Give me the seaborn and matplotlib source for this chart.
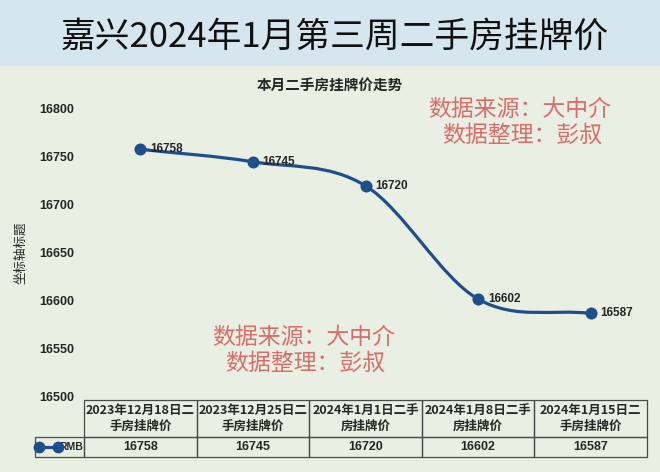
import matplotlib
matplotlib.use("Agg")
import matplotlib.pyplot as plt
from matplotlib.patches import Rectangle, PathPatch
from matplotlib.path import Path
from matplotlib.lines import Line2D
import numpy as np
import pandas as pd
import seaborn as sns

# --- Data ---
periods = [
    "2023年12月18日二\n手房挂牌价",
    "2023年12月25日二\n手房挂牌价",
    "2024年1月1日二手\n房挂牌价",
    "2024年1月8日二手\n房挂牌价",
    "2024年1月15日二\n手房挂牌价",
]
prices = [16758, 16745, 16720, 16602, 16587]
series_name = "RMB"
y_ticks = [16500, 16550, 16600, 16650, 16700, 16750, 16800]

TITLE = "嘉兴2024年1月第三周二手房挂牌价"
CHART_TITLE = "本月二手房挂牌价走势"
Y_LABEL = "坐标轴标题"
WATERMARK = ["数据来源：大中介", "数据整理：彭叔"]

# --- Style ---
BG = "#e9efe2"
BAND = "#d6e6ee"
LINE = "#1f4e8c"
RED = "#d96e6a"
CJK = ["Noto Sans CJK SC", "DejaVu Sans"]

sns.set_style("white")
plt.rcParams["font.family"] = ["Liberation Sans", "Noto Sans CJK SC", "DejaVu Sans"]

df = pd.DataFrame({"x": np.arange(len(prices)), "price": prices})

W, H = 660, 472


def fx(px):
    return px / W


def fy(py):
    return 1 - py / H


fig = plt.figure(figsize=(W / 100, H / 100), dpi=100, facecolor=BG)
fig.patches.append(Rectangle((0, fy(66)), 1, 66 / H, transform=fig.transFigure,
                             facecolor=BAND, edgecolor="none", zorder=0))

# --- Main plot ---
ax = fig.add_axes([fx(84), fy(397), 563 / W, 288 / H])
ax.set_facecolor("none")

# smoothed line (bezier through the points, excel style)
xs = df["x"].to_numpy(float)
ys = df["price"].to_numpy(float)
tang = np.gradient(ys, xs)
verts = [(xs[0], ys[0])]
codes = [Path.MOVETO]
for i in range(len(xs) - 1):
    dx = xs[i + 1] - xs[i]
    verts += [(xs[i] + dx / 3, ys[i] + tang[i] * dx / 3),
              (xs[i + 1] - dx / 3, ys[i + 1] - tang[i + 1] * dx / 3),
              (xs[i + 1], ys[i + 1])]
    codes += [Path.CURVE4] * 3
ax.add_patch(PathPatch(Path(verts, codes), facecolor="none", edgecolor=LINE,
                       lw=2.3, zorder=2, capstyle="round"))

sns.scatterplot(data=df, x="x", y="price", s=75, color=LINE, edgecolor=LINE,
                linewidth=0, zorder=3, ax=ax, legend=False)

for x, y in zip(df["x"], df["price"]):
    ax.annotate(f"{y}", (x, y), xytext=(7, 0), textcoords="offset points",
                va="center", ha="left", fontsize=8.5, fontweight="bold")

ax.set_xlim(-0.5, len(prices) - 0.5)
ax.set_ylim(y_ticks[0], y_ticks[-1])
ax.set_yticks(y_ticks)
ax.set_xticks([])
ax.set_xlabel("")
ax.set_ylabel("")
sns.despine(ax=ax, left=True, bottom=True)
ax.tick_params(axis="y", length=0, pad=7, labelsize=9)
for lab in ax.get_yticklabels():
    lab.set_fontweight("bold")

# --- Texts ---
fig.text(fx(335), fy(37), TITLE, fontsize=25, ha="center", va="center",
         family=CJK, fontweight="light", color="#111111")
fig.text(0.5, fy(85), CHART_TITLE, fontsize=10.5, fontweight="bold",
         ha="center", va="center", family=CJK)
fig.text(fx(21), fy(253), Y_LABEL, fontsize=9, rotation=90, ha="center",
         va="center", family=CJK)

fig.text(fx(520), fy(110), WATERMARK[0], fontsize=16.5, color=RED, ha="center", va="center", family=CJK)
fig.text(fx(522), fy(135), WATERMARK[1], fontsize=16.5, color=RED, ha="center", va="center", family=CJK)
fig.text(fx(304), fy(337), WATERMARK[0], fontsize=16.5, color=RED, ha="center", va="center", family=CJK)
fig.text(fx(305), fy(363), WATERMARK[1], fontsize=16.5, color=RED, ha="center", va="center", family=CJK)

# --- Data table (grid under the plot, row label hangs to the left) ---
tax = fig.add_axes([fx(84), fy(457), 563 / W, 57 / H])
tax.axis("off")
tbl = tax.table(cellText=[[str(p) for p in prices]], colLabels=periods,
                colWidths=[1 / len(prices)] * len(prices), cellLoc="center",
                bbox=[0, 0, 1, 1])
tbl.add_cell(1, -1, width=49 / 563, height=20, text=series_name, loc="right")
tbl.auto_set_font_size(False)
for (r, c), cell in tbl.get_celld().items():
    cell.set_height(37 if r == 0 else 20)
    cell.set_facecolor("none")
    cell.set_edgecolor("#4a4a4a")
    cell.set_linewidth(0.9)
    txt = cell.get_text()
    if r == 0:
        txt.set_fontsize(9)
        txt.set_fontweight("bold")
        txt.set_family(CJK)
        txt.set_linespacing(1.25)
    elif c == -1:
        cell.PAD = 0.02
        txt.set_fontsize(7.5)
        txt.set_fontweight("bold")
    else:
        txt.set_fontsize(9)
        txt.set_fontweight("bold")

fig.lines.append(Line2D([fx(39), fx(58)], [fy(447), fy(447)], transform=fig.transFigure,
                        color=LINE, lw=2.3, marker="o", ms=7.5))

fig.savefig("out.png", dpi=100, facecolor=BG)
